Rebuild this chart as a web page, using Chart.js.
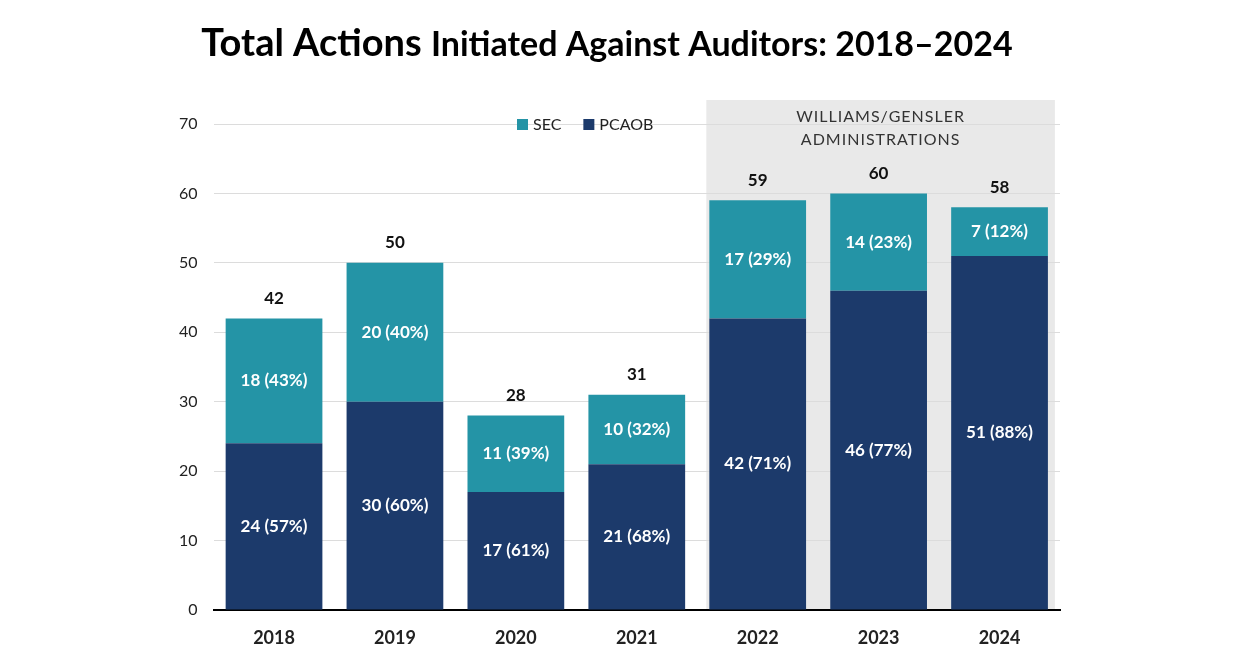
<!DOCTYPE html>
<html>
<head>
<meta charset="utf-8">
<script src="https://cdn.jsdelivr.net/npm/chart.js@4"></script>
<style>
  body { margin: 0; background: #fff; }
  #wrap { width: 1245px; height: 652px; position: relative; }
</style>
</head>
<body>
<div id="wrap"><canvas id="chart"></canvas></div>
<script>
/* chart values */
const years = ['2018', '2019', '2020', '2021', '2022', '2023', '2024'];
const pcaobActions = [24, 30, 17, 21, 42, 46, 51];
const secActions = [18, 20, 11, 10, 17, 14, 7];
const yTicks = [0, 10, 20, 30, 40, 50, 60, 70];

const titleBig = 'Total Actions ';
const titleRest = 'Initiated Against Auditors: 2018\u20132024';
const shadeLines = ['WILLIAMS/GENSLER', 'ADMINISTRATIONS'];
const shadeFrom = 4; /* first year in the shaded block */

const SEC_COLOR = '#2494a6';
const PCAOB_COLOR = '#1c3a6b';
const FONT = 'Lato, "Open Sans", sans-serif';

Chart.defaults.font.family = FONT;

function pct(part, whole) {
    return Math.round(part / whole * 100) + '%';
}

/* shaded block, labels, title and legend drawn on the canvas */
const overlayPlugin = {
    id: 'overlay',
    beforeDraw(chart) {
        const ctx = chart.ctx;
        const meta = chart.getDatasetMeta(0);
        const first = meta.data[shadeFrom];
        const last = meta.data[meta.data.length - 1];
        const area = chart.chartArea;
        const left = first.x - first.width / 2 - 3;
        const right = last.x + last.width / 2 + 7;
        ctx.save();
        ctx.fillStyle = '#e9e9e9';
        ctx.fillRect(left, area.top - 24, right - left, area.bottom - area.top + 24);
        ctx.fillStyle = '#333';
        ctx.font = '16px ' + FONT;
        ctx.letterSpacing = '1px';
        ctx.textAlign = 'center';
        ctx.textBaseline = 'middle';
        const cx = (left + right) / 2;
        ctx.fillText(shadeLines[0], cx, area.top - 7);
        ctx.fillText(shadeLines[1], cx, area.top + 16);
        ctx.restore();
    },
    afterDatasetsDraw(chart) {
        const ctx = chart.ctx;
        const bottomMeta = chart.getDatasetMeta(0);
        const topMeta = chart.getDatasetMeta(1);
        ctx.save();
        ctx.textAlign = 'center';
        ctx.textBaseline = 'middle';
        years.forEach(function(y, i) {
            const total = pcaobActions[i] + secActions[i];
            const b = bottomMeta.data[i];
            const t = topMeta.data[i];
            ctx.fillStyle = '#fff';
            ctx.font = 'bold 17px ' + FONT;
            ctx.fillText(pcaobActions[i] + ' (' + pct(pcaobActions[i], total) + ')', b.x, (b.y + b.base) / 2);
            ctx.fillText(secActions[i] + ' (' + pct(secActions[i], total) + ')', t.x, (t.y + t.base) / 2);
            ctx.fillStyle = '#111';
            ctx.font = 'bold 17px ' + FONT;
            ctx.fillText(String(total), t.x, t.y - 20);
        });
        ctx.restore();
    },
    afterDraw(chart) {
        const ctx = chart.ctx;
        ctx.save();
        /* title */
        ctx.fillStyle = '#000';
        ctx.textBaseline = 'alphabetic';
        ctx.font = 'bold 38px ' + FONT;
        const w1 = ctx.measureText(titleBig).width;
        ctx.font = 'bold 34px ' + FONT;
        const w2 = ctx.measureText(titleRest).width;
        let x = 607 - (w1 + w2) / 2;
        ctx.font = 'bold 38px ' + FONT;
        ctx.fillText(titleBig, x, 56);
        ctx.font = 'bold 34px ' + FONT;
        ctx.fillText(titleRest, x + w1, 56);

        /* legend */
        const area = chart.chartArea;
        const items = [['SEC', SEC_COLOR], ['PCAOB', PCAOB_COLOR]];
        ctx.font = '16px ' + FONT;
        ctx.textBaseline = 'middle';
        let lx = 517;
        const ly = area.top;
        items.forEach(function(it) {
            ctx.fillStyle = it[1];
            ctx.fillRect(lx, ly - 5, 11, 11);
            ctx.fillStyle = '#222';
            ctx.fillText(it[0], lx + 16, ly + 1);
            lx += 16 + ctx.measureText(it[0]).width + 22;
        });
        ctx.restore();
    }
};

new Chart(document.getElementById('chart'), {
    type: 'bar',
    data: {
        labels: years,
        datasets: [
            { label: 'PCAOB', data: pcaobActions, backgroundColor: PCAOB_COLOR },
            { label: 'SEC', data: secActions, backgroundColor: SEC_COLOR }
        ]
    },
    options: {
        responsive: true,
        maintainAspectRatio: false,
        animation: false,
        layout: { padding: { top: 124, bottom: 4, left: 163, right: 185 } },
        plugins: {
            legend: { display: false },
            tooltip: { enabled: false }
        },
        datasets: {
            bar: { barPercentage: 0.8, categoryPercentage: 1.0 }
        },
        scales: {
            x: {
                stacked: true,
                grid: { display: false },
                border: { display: true, color: '#000', width: 2 },
                ticks: { color: '#222', font: { size: 18, weight: 'bold' }, padding: 9 },
                afterFit(scale) { scale.height = 38; }
            },
            y: {
                stacked: true,
                min: 0,
                max: 70,
                afterBuildTicks(scale) {
                    scale.ticks = yTicks.map(function(v) { return { value: v }; });
                },
                grid: { color: '#dcdcdc', drawTicks: false },
                border: { display: false },
                ticks: { color: '#222', font: { size: 16 }, padding: 16 }
            }
        }
    },
    plugins: [overlayPlugin]
});
</script>
</body>
</html>
